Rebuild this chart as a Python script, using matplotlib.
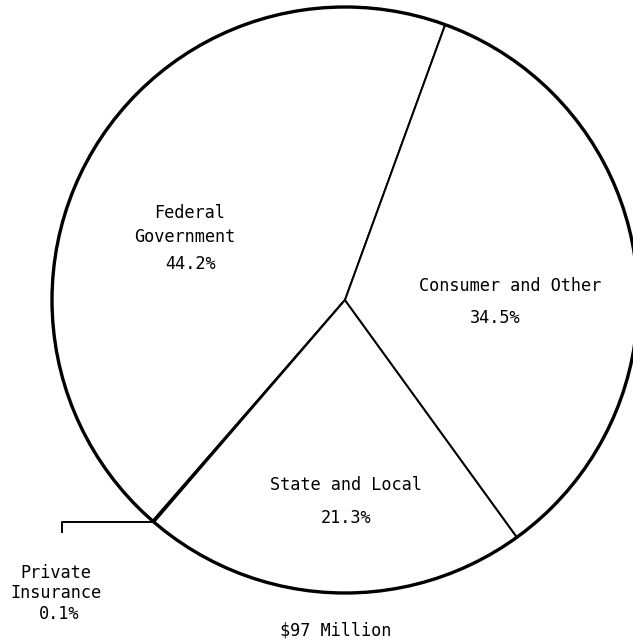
import numpy as np
import matplotlib
import matplotlib.pyplot as plt

matplotlib.rcParams['font.family'] = ['DejaVu Sans Mono']

labels = ['Federal\nGovernment', 'Private\nInsurance', 'State and Local', 'Consumer and Other']
shares = [44.2, 0.1, 21.3, 34.5]
pct_text = ['44.2%', '0.1%', '21.3%', '34.5%']
total_text = '$97 Million'

W, H = 633, 643
fig = plt.figure(figsize=(W / 100, H / 100), dpi=100)
ax = fig.add_axes([0, 0, 1, 1])

cx, cy, r = 345, H - 300, 293
start = 70

wedges, _ = ax.pie(shares, startangle=start, counterclock=True, center=(cx, cy), radius=r,
                   wedgeprops=dict(facecolor='white', edgecolor='black', linewidth=1.4))
ax.add_patch(plt.Circle((cx, cy), r, fill=False, edgecolor='black', linewidth=2.4, zorder=5))
ax.set_xlim(0, W)
ax.set_ylim(0, H)
ax.set_aspect('equal')
ax.axis('off')

fs = 12.2
# text lines: (x, y from top)
lines = {
    0: [(190, 213), (185, 237)],
    2: [(346, 485)],
    3: [(510, 286)],
}
pct_pos = {0: (190, 264), 2: (346, 518), 3: (495, 318)}
for i in lines:
    for txt, (x, y) in zip(labels[i].split('\n'), lines[i]):
        ax.text(x, H - y, txt, ha='center', va='center', fontsize=fs)
    x, y = pct_pos[i]
    ax.text(x, H - y, pct_text[i], ha='center', va='center', fontsize=fs)

# leader line for the tiny private insurance slice
w = wedges[1]
theta = np.deg2rad((w.theta1 + w.theta2) / 2)
px, py = cx + r * np.cos(theta), cy + r * np.sin(theta)
ax.plot([px, 62, 62], [py, py, py - 10], color='black', linewidth=1.4)
for txt, y in zip(labels[1].split('\n'), [573, 593]):
    ax.text(56, H - y, txt, ha='center', va='center', fontsize=fs)
ax.text(59, H - 614, pct_text[1], ha='center', va='center', fontsize=fs)

ax.text(336, H - 630, total_text, ha='center', va='center', fontsize=fs)

plt.savefig('out.png', dpi=100)
